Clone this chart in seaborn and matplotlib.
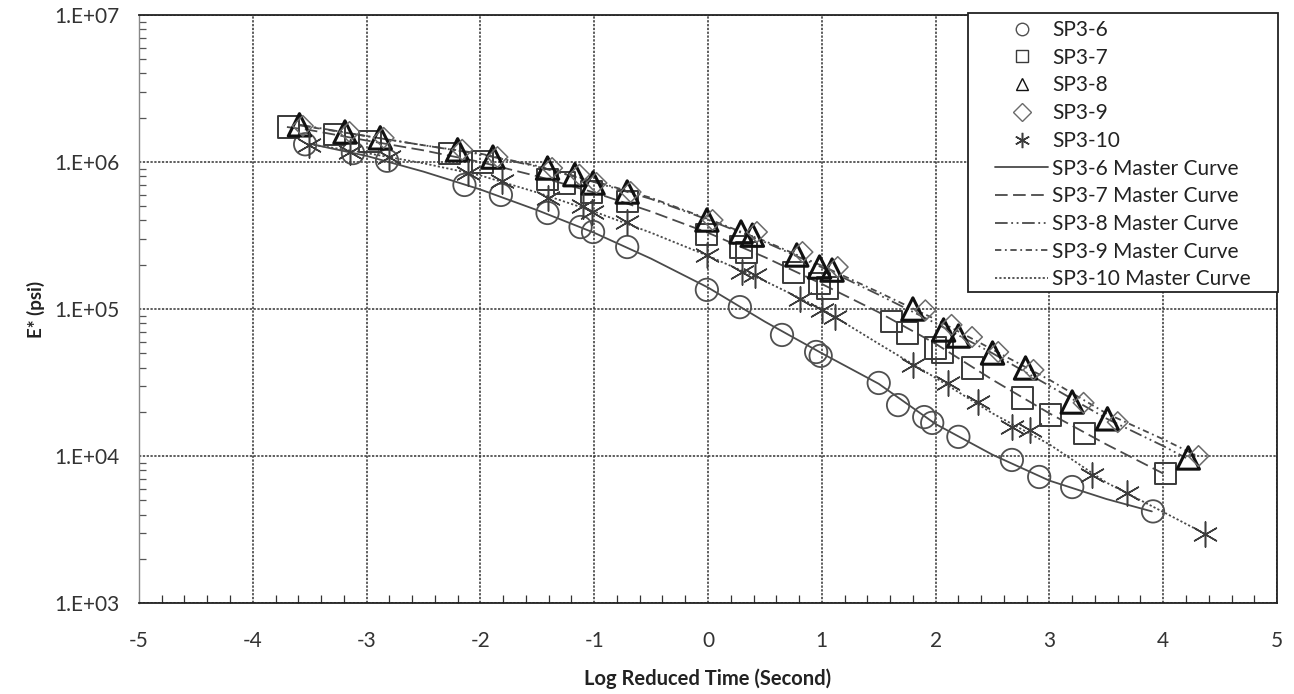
import numpy as np
import pandas as pd
import matplotlib
matplotlib.use("Agg")
import matplotlib.pyplot as plt
from matplotlib.ticker import FixedLocator, FixedFormatter, MultipleLocator, LogLocator, NullFormatter
from matplotlib.lines import Line2D
from matplotlib.patches import Rectangle
import seaborn as sns

# ---- measured dynamic modulus |E*| (psi) vs log reduced time (s) ----
sp36_x = [-3.54, -3.12, -2.82, -2.14, -1.82, -1.41, -1.12, -1.01, -0.71, -0.01, 0.28,
          0.65, 0.95, 0.99, 1.50, 1.67, 1.90, 1.97, 2.20, 2.67, 2.91, 3.20, 3.91]
sp36_y = [1.32e6, 1.15e6, 1.02e6, 6.98e5, 5.97e5, 4.50e5, 3.61e5, 3.34e5, 2.64e5, 1.35e5, 1.03e5,
          6.66e4, 5.1e4, 4.8e4, 3.14e4, 2.22e4, 1.84e4, 1.68e4, 1.35e4, 9.4e3, 7.2e3, 6.15e3, 4.2e3]

sp37_x = [-3.69, -3.28, -2.97, -2.27, -1.98, -1.41, -1.26, -1.02, -0.71, -0.01, 0.29, 0.34,
          0.75, 0.98, 1.05, 1.61, 1.75, 2.00, 2.06, 2.32, 2.76, 3.01, 3.31, 4.02]
sp37_y = [1.73e6, 1.53e6, 1.37e6, 1.15e6, 1.00e6, 7.55e5, 7.2e5, 6.25e5, 5.35e5, 3.19e5, 2.64e5, 2.44e5,
          1.76e5, 1.50e5, 1.39e5, 8.2e4, 6.87e4, 5.43e4, 5.1e4, 3.97e4, 2.48e4, 1.90e4, 1.43e4, 7.65e3]

sp38_x = [-3.59, -3.19, -2.88, -2.20, -1.89, -1.41, -1.17, -1.01, -0.71, -0.01, 0.29, 0.39,
          0.78, 0.98, 1.09, 1.80, 2.07, 2.20, 2.50, 2.79, 3.20, 3.51, 4.22]
sp38_y = [1.79e6, 1.60e6, 1.46e6, 1.21e6, 1.08e6, 9.1e5, 8.2e5, 7.2e5, 6.25e5, 4.03e5, 3.34e5, 3.18e5,
          2.33e5, 1.93e5, 1.84e5, 1.00e5, 7.2e4, 6.55e4, 5.02e4, 3.97e4, 2.33e4, 1.79e4, 9.7e3]

sp39_x = [-3.56, -3.15, -2.85, -2.16, -1.85, -1.37, -1.13, -0.98, -0.68, 0.04, 0.43, 0.83,
          1.14, 1.91, 2.14, 2.32, 2.55, 2.86, 3.30, 3.60, 4.31]
sp39_y = [1.76e6, 1.60e6, 1.46e6, 1.21e6, 1.08e6, 9.1e5, 8.2e5, 7.2e5, 6.25e5, 4.03e5, 3.34e5, 2.44e5,
          1.93e5, 9.8e4, 7.8e4, 6.45e4, 5.1e4, 3.85e4, 2.3e4, 1.7e4, 1.0e4]

sp310_x = [-3.51, -3.15, -2.80, -2.11, -1.81, -1.41, -1.10, -1.02, -0.71, -0.01, 0.30, 0.41,
           0.81, 1.00, 1.12, 1.80, 2.11, 2.37, 2.67, 2.83, 3.37, 3.68, 4.37]
sp310_y = [1.31e6, 1.17e6, 1.08e6, 8.4e5, 7.4e5, 5.69e5, 5.02e5, 4.57e5, 3.91e5, 2.33e5, 1.79e5, 1.70e5,
           1.17e5, 9.85e4, 8.83e4, 4.16e4, 3.14e4, 2.33e4, 1.57e4, 1.50e4, 7.43e3, 5.6e3, 2.94e3]

# ---- fitted master curves ----
mc36_x = [-3.5, -3.0, -2.5, -2.0, -1.5, -1.0, -0.5, 0.0, 0.5, 1.0, 1.5, 2.0, 2.5, 3.0, 3.5, 3.9]
mc36_y = [1.33e6, 1.1e6, 8.6e5, 6.5e5, 4.7e5, 3.3e5, 2.2e5, 1.4e5, 8.2e4, 5.0e4, 3.1e4, 1.65e4,
          1.02e4, 6.8e3, 5.1e3, 4.2e3]

mc37_x = [-3.7, -3.5, -3.0, -2.5, -2.0, -1.5, -1.0, -0.5, 0.0, 0.5, 1.0, 1.5, 2.0, 2.5, 3.0, 3.5, 4.0]
mc37_y = [1.73e6, 1.65e6, 1.4e6, 1.2e6, 1.0e6, 8.0e5, 6.2e5, 4.6e5, 3.3e5, 2.25e5, 1.48e5, 9.5e4,
          5.8e4, 3.3e4, 1.95e4, 1.2e4, 7.6e3]

mc38_x = [-3.6, -3.0, -2.5, -2.0, -1.5, -1.0, -0.5, 0.0, 0.5, 1.0, 1.5, 2.0, 2.5, 3.0, 3.5, 4.0, 4.2]
mc38_y = [1.8e6, 1.5e6, 1.3e6, 1.13e6, 9.3e5, 7.3e5, 5.6e5, 4.05e5, 2.85e5, 1.92e5, 1.25e5, 8.0e4,
          5.0e4, 3.0e4, 1.8e4, 1.17e4, 9.7e3]

mc39_x = [-3.6, -3.0, -2.5, -2.0, -1.5, -1.0, -0.5, 0.0, 0.5, 1.0, 1.5, 2.0, 2.5, 3.0, 3.5, 4.0, 4.3]
mc39_y = [1.78e6, 1.5e6, 1.3e6, 1.14e6, 9.4e5, 7.4e5, 5.7e5, 4.1e5, 2.9e5, 1.97e5, 1.3e5, 8.5e4,
          5.3e4, 3.3e4, 1.95e4, 1.3e4, 1.0e4]

mc310_x = [-3.5, -3.0, -2.5, -2.0, -1.5, -1.0, -0.5, 0.0, 0.5, 1.0, 1.5, 2.0, 2.5, 3.0, 3.5, 4.0, 4.37]
mc310_y = [1.32e6, 1.15e6, 9.8e5, 8.1e5, 6.2e5, 4.6e5, 3.3e5, 2.3e5, 1.55e5, 1.0e5, 5.8e4, 3.4e4,
           1.95e4, 1.2e4, 6.6e3, 4.16e3, 2.95e3]

x_ticks = [-5, -4, -3, -2, -1, 0, 1, 2, 3, 4, 5]
x_tick_labels = ["-5", "-4", "-3", "-2", "-1", "0", "1", "2", "3", "4", "5"]
y_ticks = [1e3, 1e4, 1e5, 1e6, 1e7]
y_tick_labels = ["1.E+03", "1.E+04", "1.E+05", "1.E+06", "1.E+07"]

sns.set_theme(style="white")
plt.rcParams["font.family"] = ["Lato", "DejaVu Sans"]

W, H = 1294, 694
fig = plt.figure(figsize=(W / 100, H / 100), dpi=100)
ax = fig.add_axes([0.1074, 0.1311, 0.8795, 0.8473])

line_col = "#4a4a4a"
curves = [
    ("SP3-6 Master Curve", mc36_x, mc36_y, (None, None)),
    ("SP3-7 Master Curve", mc37_x, mc37_y, (7.0, 3.0)),
    ("SP3-8 Master Curve", mc38_x, mc38_y, (7.0, 2.0, 1.0, 2.0, 1.0, 2.0)),
    ("SP3-9 Master Curve", mc39_x, mc39_y, (3.5, 2.0, 1.0, 2.0)),
    ("SP3-10 Master Curve", mc310_x, mc310_y, (1.2, 1.2)),
]
curve_handles = []
for label, xs, ys, dash in curves:
    df = pd.DataFrame({"t": xs, "E": ys})
    kw = dict(color=line_col, linewidth=1.3, zorder=2)
    if dash[0] is None:
        sns.lineplot(data=df, x="t", y="E", ax=ax, estimator=None, sort=False, linestyle="-", **kw)
        curve_handles.append(Line2D([], [], linestyle="-", label=label, **kw))
    else:
        sns.lineplot(data=df, x="t", y="E", ax=ax, estimator=None, sort=False, dashes=False, **kw)
        ax.lines[-1].set_dashes(dash)
        h = Line2D([], [], label=label, **kw)
        h.set_dashes(dash)
        curve_handles.append(h)

series = [
    ("SP3-6", sp36_x, sp36_y, "o", 260, "#505050", 1.3),
    ("SP3-7", sp37_x, sp37_y, "s", 230, "#3a3a3a", 1.4),
    ("SP3-8", sp38_x, sp38_y, "^", 260, "#111111", 2.2),
    ("SP3-9", sp39_x, sp39_y, "D", 110, "#6a6a6a", 1.1),
    ("SP3-10", sp310_x, sp310_y, (6, 2, 0), 330, "#3c3c3c", 1.1),
]
point_handles = []
for label, xs, ys, mk, size, col, lw in series:
    df = pd.DataFrame({"t": xs, "E": ys})
    if isinstance(mk, tuple):
        sns.scatterplot(data=df, x="t", y="E", ax=ax, marker=mk, s=size, color=col,
                        linewidth=lw, zorder=3)
        point_handles.append(Line2D([], [], linestyle="", marker=mk, markersize=11,
                                    color=col, markeredgewidth=lw, label=label))
    else:
        sns.scatterplot(data=df, x="t", y="E", ax=ax, marker=mk, s=size, facecolors="none",
                        edgecolors=col, linewidth=lw, zorder=3)
        point_handles.append(Line2D([], [], linestyle="", marker=mk, markersize=9,
                                    markerfacecolor="none", markeredgecolor=col,
                                    markeredgewidth=1.0, label=label))

ax.set_yscale("log")
ax.set_xlim(-5, 5)
ax.set_ylim(1e3, 1e7)

ax.xaxis.set_major_locator(FixedLocator(x_ticks))
ax.xaxis.set_major_formatter(FixedFormatter(x_tick_labels))
ax.xaxis.set_minor_locator(MultipleLocator(0.2))
ax.yaxis.set_major_locator(FixedLocator(y_ticks))
ax.yaxis.set_major_formatter(FixedFormatter(y_tick_labels))
ax.yaxis.set_minor_locator(LogLocator(base=10, subs=np.arange(2, 10)))
ax.yaxis.set_minor_formatter(NullFormatter())

ax.tick_params(axis="x", which="major", direction="inout", length=12, width=1.0,
               color="#222222", labelsize=15, labelcolor="#333333", pad=14)
ax.tick_params(axis="x", which="minor", direction="in", length=6, width=0.9, color="#333333",
               bottom=True)
ax.tick_params(axis="y", which="major", direction="out", length=8, width=1.0,
               color="#555555", labelsize=15, labelcolor="#333333", pad=6)
ax.tick_params(axis="y", which="minor", direction="in", length=5, width=0.9, color="#555555",
               left=True)

ax.grid(True, which="major", axis="both", color="#333333", linestyle=(0, (1.5, 1.0)),
        linewidth=1.1)
ax.set_axisbelow(True)

for side in ["top", "right", "bottom"]:
    ax.spines[side].set_visible(True)
    ax.spines[side].set_color("#222222")
    ax.spines[side].set_linewidth(1.3)
ax.spines["left"].set_color("#888888")
ax.spines["left"].set_linewidth(1.0)

ax.set_xlabel("Log Reduced Time (Second)", fontsize=14.5, fontweight="bold", color="#222222",
              labelpad=13)
ax.set_ylabel("E* (psi)", fontsize=13.5, fontweight="bold", color="#222222", labelpad=7)

# legend box drawn as its own framed rectangle, entries placed inside it
box = Rectangle((968 / W, 1 - 292 / H), (1278 - 968) / W, (292 - 13) / H,
                transform=fig.transFigure, facecolor="white", edgecolor="#222222",
                linewidth=1.3, zorder=5)
fig.patches.append(box)

leg = fig.legend(handles=point_handles + curve_handles, loc="upper left",
                 bbox_to_anchor=(995 / W, 1 - 20 / H), fontsize=15, frameon=False,
                 handlelength=2.55, handletextpad=0.2, labelspacing=0.37,
                 borderpad=0.0, borderaxespad=0.0)
leg.set_zorder(6)
for t in leg.get_texts():
    t.set_color("#222222")

fig.savefig("out.png", dpi=100)
